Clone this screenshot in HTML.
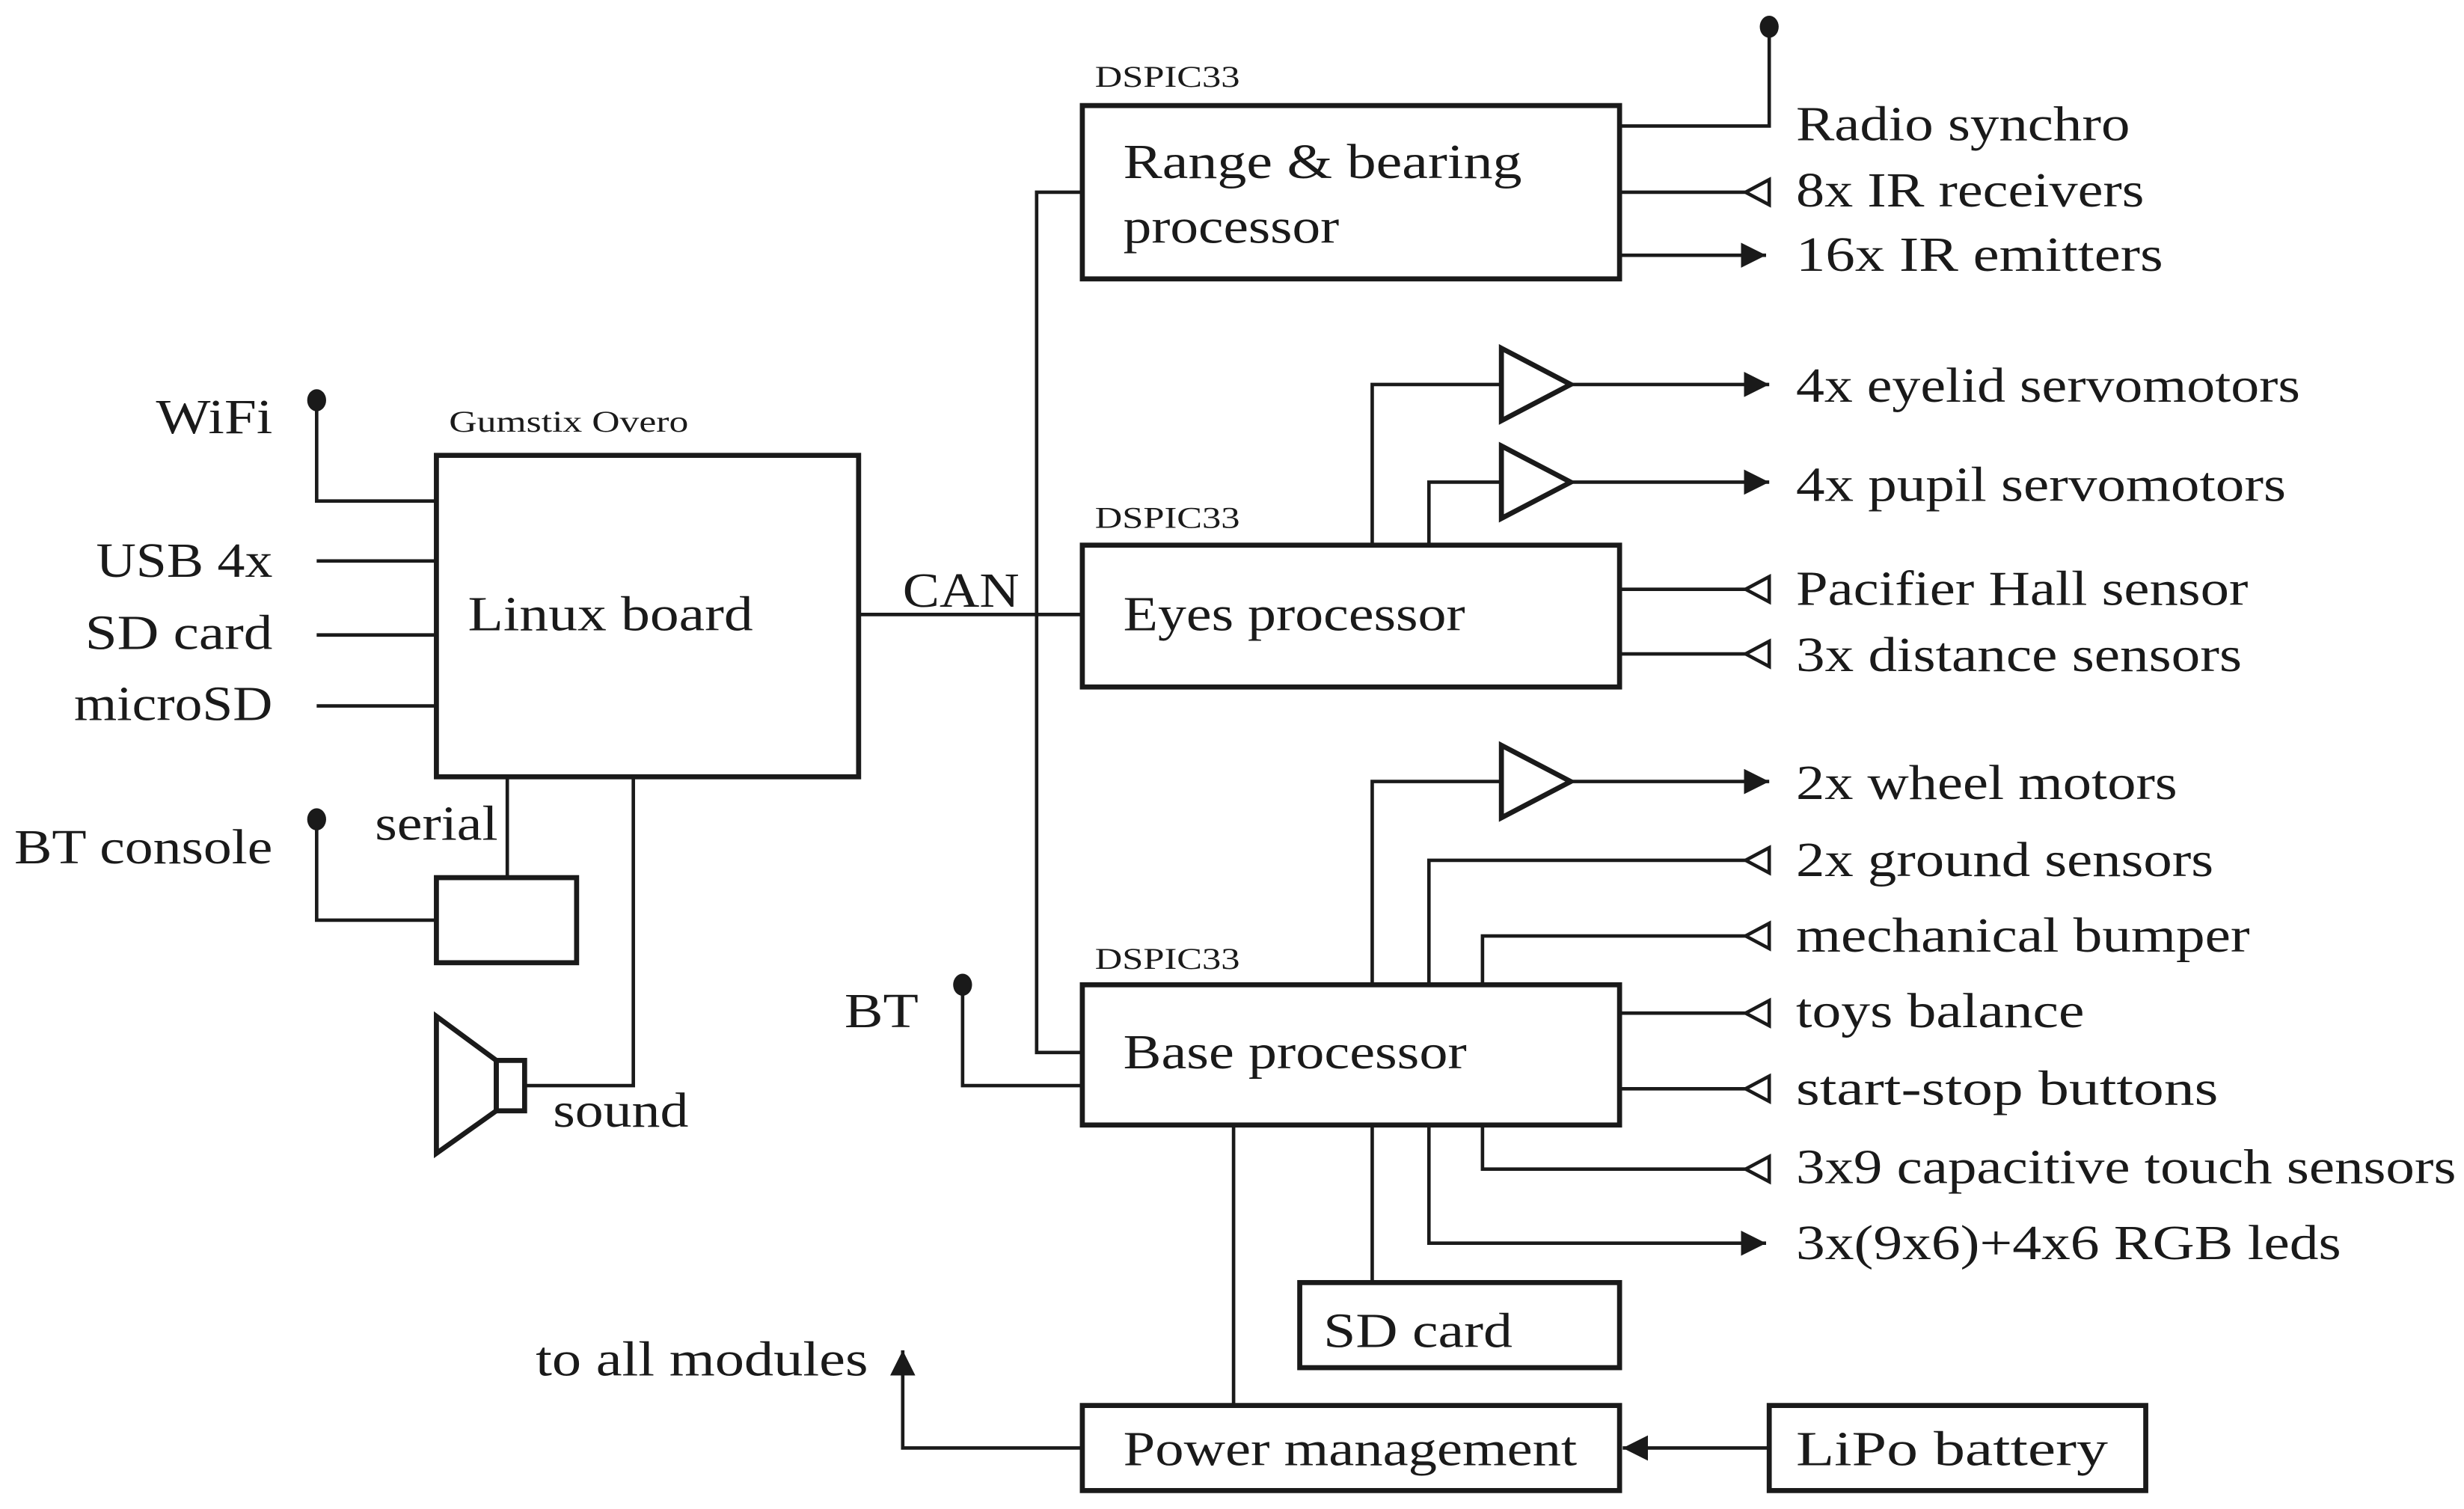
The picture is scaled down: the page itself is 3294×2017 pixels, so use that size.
<!DOCTYPE html>
<html><head><meta charset="utf-8"><style>
html,body{margin:0;padding:0;background:#fff;}
svg{display:block;}
text{font-family:"Liberation Serif",serif;fill:#1a1a1a;}
.m{font-size:31px;}
.s{font-size:19px;}
</style></head><body>
<svg width="3294" height="2017" viewBox="0 0 1564 957.7" preserveAspectRatio="none" xmlns="http://www.w3.org/2000/svg">
<defs>
<marker id="fa" viewBox="0 0 10 10" refX="10" refY="5" markerWidth="16" markerHeight="16" markerUnits="userSpaceOnUse" orient="auto"><path d="M0,0 L10,5 L0,10 z" fill="#1a1a1a"/></marker>
</defs>
<g fill="none" stroke="#1a1a1a" stroke-width="3.2">
<rect x="687" y="67" width="341" height="110"/>
<rect x="687" y="346" width="341" height="90"/>
<rect x="687" y="625" width="341" height="89"/>
<rect x="825" y="814" width="203" height="54"/>
<rect x="687" y="892" width="341" height="54"/>
<rect x="1123" y="892" width="239" height="54"/>
<rect x="277" y="289" width="268" height="204"/>
<rect x="277" y="557" width="89" height="54"/>
<polygon points="315,673 277,645 277,732 315,705"/>
<rect x="315" y="673" width="18" height="32"/>
<polygon points="953,221 997,244 953,267"/>
<polygon points="953,283 997,306 953,329"/>
<polygon points="953,473 997,496 953,519"/>
</g>
<g fill="none" stroke="#1a1a1a" stroke-width="2.2">
<!-- range box outputs -->
<polyline points="1028,80 1123,80 1123,17"/>
<line x1="1028" y1="122" x2="1108" y2="122"/>
<polygon points="1123,114 1108,122 1123,130"/>
<line x1="1028" y1="162" x2="1121" y2="162" marker-end="url(#fa)"/>
<!-- eyes -->
<polyline points="871,346 871,244 953,244"/>
<polyline points="907,346 907,306 953,306"/>
<line x1="997" y1="244" x2="1123" y2="244" marker-end="url(#fa)"/>
<line x1="997" y1="306" x2="1123" y2="306" marker-end="url(#fa)"/>
<line x1="1028" y1="374" x2="1108" y2="374"/>
<polygon points="1123,366 1108,374 1123,382"/>
<line x1="1028" y1="415" x2="1108" y2="415"/>
<polygon points="1123,407 1108,415 1123,423"/>
<!-- base -->
<polyline points="871,625 871,496 953,496"/>
<line x1="997" y1="496" x2="1123" y2="496" marker-end="url(#fa)"/>
<polyline points="907,625 907,546 1108,546"/>
<polygon points="1123,538 1108,546 1123,554"/>
<polyline points="941,625 941,594 1108,594"/>
<polygon points="1123,586 1108,594 1123,602"/>
<line x1="1028" y1="643" x2="1108" y2="643"/>
<polygon points="1123,635 1108,643 1123,651"/>
<line x1="1028" y1="691" x2="1108" y2="691"/>
<polygon points="1123,683 1108,691 1123,699"/>
<polyline points="941,714 941,742 1108,742"/>
<polygon points="1123,734 1108,742 1123,750"/>
<polyline points="907,714 907,789 1121,789" marker-end="url(#fa)"/>
<line x1="871" y1="714" x2="871" y2="814"/>
<line x1="783" y1="714" x2="783" y2="892"/>
<polyline points="687,919 573,919 573,857" marker-end="url(#fa)"/>
<line x1="1123" y1="919" x2="1030" y2="919" marker-end="url(#fa)"/>
<!-- CAN -->
<polyline points="687,122 658,122 658,668 687,668"/>
<line x1="545" y1="390" x2="687" y2="390"/>
<polyline points="611,625 611,689 687,689"/>
<!-- linux side -->
<polyline points="201,254 201,318 277,318"/>
<line x1="201" y1="356" x2="277" y2="356"/>
<line x1="201" y1="403" x2="277" y2="403"/>
<line x1="201" y1="448" x2="277" y2="448"/>
<line x1="322" y1="493" x2="322" y2="557"/>
<polyline points="201,520 201,584 277,584"/>
<polyline points="333,689 402,689 402,493"/>
</g>
<g fill="#1a1a1a">
<ellipse cx="1123" cy="17" rx="6" ry="7"/>
<ellipse cx="611" cy="625" rx="6" ry="7"/>
<ellipse cx="201" cy="254" rx="6" ry="7"/>
<ellipse cx="201" cy="520" rx="6" ry="7"/>
</g>
<g class="m">
<text x="713" y="113" textLength="253" lengthAdjust="spacingAndGlyphs">Range &amp; bearing</text>
<text x="713" y="154" textLength="137" lengthAdjust="spacingAndGlyphs">processor</text>
<text x="713" y="400" textLength="217" lengthAdjust="spacingAndGlyphs">Eyes processor</text>
<text x="713" y="678" textLength="218" lengthAdjust="spacingAndGlyphs">Base processor</text>
<text x="840" y="855" textLength="120" lengthAdjust="spacingAndGlyphs">SD card</text>
<text x="713" y="930" textLength="288" lengthAdjust="spacingAndGlyphs">Power management</text>
<text x="1140" y="930" textLength="198" lengthAdjust="spacingAndGlyphs">LiPo battery</text>
<text x="297" y="400" textLength="181" lengthAdjust="spacingAndGlyphs">Linux board</text>
<text x="573" y="385" textLength="74" lengthAdjust="spacingAndGlyphs">CAN</text>
<text x="99" y="275" textLength="74" lengthAdjust="spacingAndGlyphs">WiFi</text>
<text x="61" y="366" textLength="112" lengthAdjust="spacingAndGlyphs">USB 4x</text>
<text x="54" y="412" textLength="119" lengthAdjust="spacingAndGlyphs">SD card</text>
<text x="47" y="457" textLength="126" lengthAdjust="spacingAndGlyphs">microSD</text>
<text x="9" y="548" textLength="164" lengthAdjust="spacingAndGlyphs">BT console</text>
<text x="238" y="533" textLength="78" lengthAdjust="spacingAndGlyphs">serial</text>
<text x="351" y="715" textLength="86" lengthAdjust="spacingAndGlyphs">sound</text>
<text x="536" y="652" textLength="47" lengthAdjust="spacingAndGlyphs">BT</text>
<text x="340" y="873" textLength="211" lengthAdjust="spacingAndGlyphs">to all modules</text>
<text x="1140" y="89" textLength="212" lengthAdjust="spacingAndGlyphs">Radio synchro</text>
<text x="1140" y="131" textLength="221" lengthAdjust="spacingAndGlyphs">8x IR receivers</text>
<text x="1140" y="172" textLength="233" lengthAdjust="spacingAndGlyphs">16x IR emitters</text>
<text x="1140" y="255" textLength="320" lengthAdjust="spacingAndGlyphs">4x eyelid servomotors</text>
<text x="1140" y="318" textLength="311" lengthAdjust="spacingAndGlyphs">4x pupil servomotors</text>
<text x="1140" y="384" textLength="287" lengthAdjust="spacingAndGlyphs">Pacifier Hall sensor</text>
<text x="1140" y="426" textLength="283" lengthAdjust="spacingAndGlyphs">3x distance sensors</text>
<text x="1140" y="507" textLength="242" lengthAdjust="spacingAndGlyphs">2x wheel motors</text>
<text x="1140" y="556" textLength="265" lengthAdjust="spacingAndGlyphs">2x ground sensors</text>
<text x="1140" y="604" textLength="288" lengthAdjust="spacingAndGlyphs">mechanical bumper</text>
<text x="1140" y="652" textLength="183" lengthAdjust="spacingAndGlyphs">toys balance</text>
<text x="1140" y="701" textLength="268" lengthAdjust="spacingAndGlyphs">start-stop buttons</text>
<text x="1140" y="751" textLength="419" lengthAdjust="spacingAndGlyphs">3x9 capacitive touch sensors</text>
<text x="1140" y="799" textLength="346" lengthAdjust="spacingAndGlyphs">3x(9x6)+4x6 RGB leds</text>
</g>
<g class="s">
<text x="695" y="55" textLength="92" lengthAdjust="spacingAndGlyphs">DSPIC33</text>
<text x="695" y="335" textLength="92" lengthAdjust="spacingAndGlyphs">DSPIC33</text>
<text x="695" y="615" textLength="92" lengthAdjust="spacingAndGlyphs">DSPIC33</text>
<text x="285" y="274" textLength="152" lengthAdjust="spacingAndGlyphs">Gumstix Overo</text>
</g>
</svg>
</body></html>
